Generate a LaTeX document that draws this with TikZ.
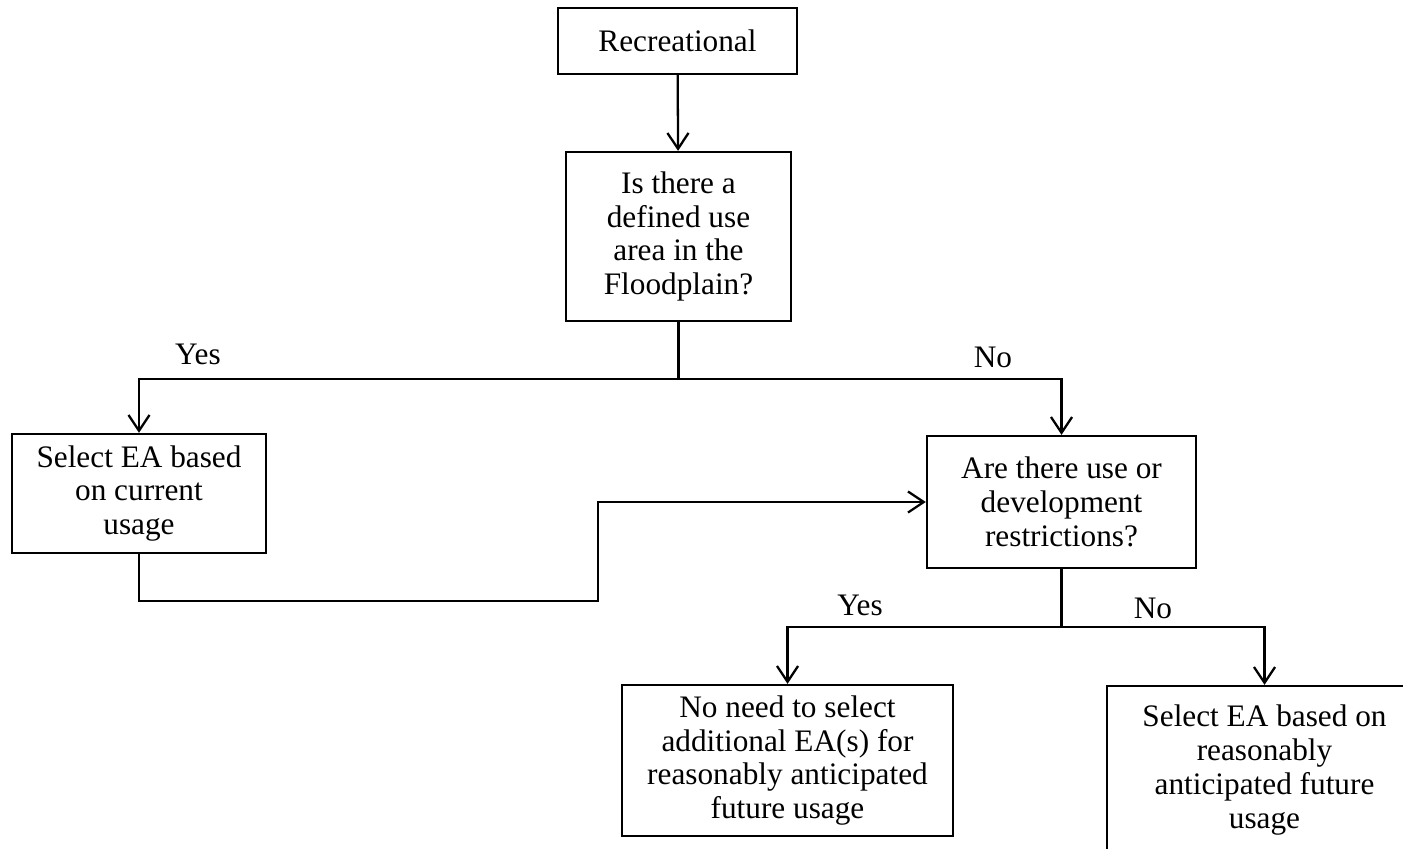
\documentclass[tikz,border=0pt]{standalone}
\usepackage{fontspec}
\setmainfont{Liberation Serif}
\usetikzlibrary{positioning,arrows.meta}

\begin{document}
\begin{tikzpicture}[
box/.style={
draw,
line width=1.3pt,
align=center,
inner sep=2pt
},
lbl/.style={
inner sep=0pt
},
every node/.style={font=\fontsize{17.8}{19.3}\selectfont},
>={Straight Barb[length=9pt,width=12pt]}
]
\useasboundingbox (0,0) rectangle (28.06,-16.98);
\clip (0,0) rectangle (28.06,-16.98);

\node[box, minimum width=4.78cm, minimum height=1.32cm] (recreational) at (13.55,-0.82) {Recreational};

\node[box, minimum width=4.5cm, minimum height=3.38cm] (usearea) at (13.57,-4.73)
{Is there a\\defined use\\area in the\\Floodplain?};

\node[box, minimum width=5.08cm, minimum height=2.38cm] (current) at (2.78,-9.87)
{Select EA based\\on current\\usage};

\node[box, minimum width=5.38cm, minimum height=2.64cm] (restrict) at (21.23,-10.04)
{Are there use or\\development\\restrictions?};

\node[box, minimum width=6.62cm, minimum height=3.02cm] (noneed) at (15.75,-15.21)
{No need to select\\additional EA(s) for\\reasonably anticipated\\future usage};

\node[box, minimum width=6.3cm, minimum height=3.36cm] (future) at (25.29,-15.4)
{Select EA based on\\reasonably\\anticipated future\\usage};

% junctions
\coordinate (split1) at (13.57,-7.58);
\coordinate (split2) at (21.23,-12.54);
\coordinate (loop) at (11.96,-12.02);

\draw[line width=1.3pt,->] (recreational) -- (usearea);
\draw[line width=1.3pt] (usearea.south) -- (split1);
\draw[line width=1.3pt,->] (split1) -| (current.north);
\draw[line width=1.3pt,->] (split1) -| (restrict.north);
\draw[line width=1.3pt,->] (current.south) |- (loop) |- (restrict.west);
\draw[line width=1.3pt] (restrict.south) -- (split2);
\draw[line width=1.3pt,->] (split2) -| (noneed.north);
\draw[line width=1.3pt,->] (split2) -| (future.north);

\node[lbl] (yes1) at (3.96,-7.08) {Yes};
\node[lbl] (no1) at (19.86,-7.14) {No};
\node[lbl] (yes2) at (17.2,-12.1) {Yes};
\node[lbl] (no2) at (23.06,-12.16) {No};

\end{tikzpicture}
\end{document}
